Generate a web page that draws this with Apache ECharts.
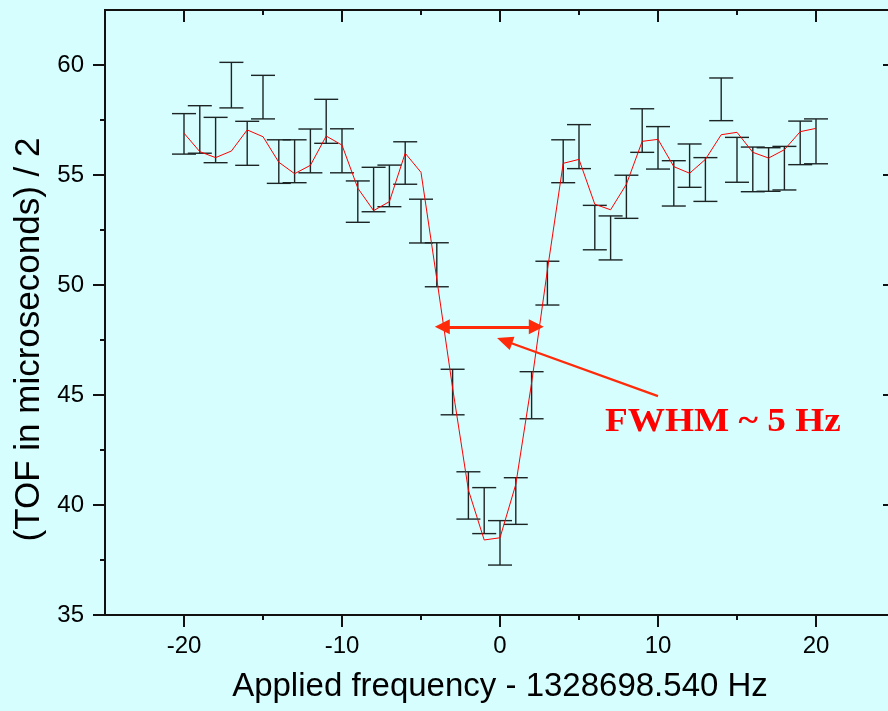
<!DOCTYPE html>
<html>
<head>
<meta charset="utf-8">
<script src="https://cdn.jsdelivr.net/npm/echarts@6/dist/echarts.min.js"></script>
<style>html,body{margin:0;padding:0;background:#d6fefe;overflow:hidden;}#c{width:888px;height:711px;}</style>
</head>
<body>
<div id="c"></div>
<script>
// Frequency offsets (Hz)
var freqs = [-20,-19,-18,-17,-16,-15,-14,-13,-12,-11,-10,-9,-8,-7,-6,-5,-4,-3,-2,-1,0,1,2,3,4,5,6,7,8,9,10,11,12,13,14,15,16,17,18,19,20];
// Red line values
var lineVals = [56.90,56.06,55.79,56.09,57.05,56.74,55.58,55.06,55.44,56.77,56.36,54.40,53.38,53.79,55.99,55.12,50.27,45.32,40.68,38.41,38.51,40.94,45.55,50.68,55.53,55.71,53.67,53.42,54.58,56.53,56.62,55.38,55.08,55.71,56.83,56.94,56.03,55.77,56.15,56.97,57.12];
// Error bar upper and lower ends
var barHigh = [57.79,58.15,57.62,60.12,57.44,59.53,56.60,56.60,57.09,58.44,57.10,54.73,55.35,55.45,56.51,53.90,51.92,46.17,41.51,40.79,39.29,41.24,46.06,51.08,56.60,57.29,53.62,53.14,54.99,58.01,57.20,55.65,56.41,55.79,59.41,56.71,56.27,56.24,56.30,57.45,57.55];
var barLow = [55.95,55.99,55.56,58.05,55.44,57.55,54.62,54.65,55.10,56.44,55.10,52.85,53.33,53.56,54.58,51.91,49.92,44.10,39.36,38.70,37.27,39.12,43.92,49.09,54.65,55.29,51.60,51.14,53.03,56.03,55.27,53.59,54.44,53.80,57.47,54.67,54.24,54.26,54.32,55.47,55.51];
// Axis ticks
var xMajor = [-20,-10,0,10,20];
var xMinor = [-15,-5,5,15];
var yMajor = [35,40,45,50,55,60];
var yMinor = [37.5,42.5,47.5,52.5,57.5];
// Annotation (data coordinates)
var fwhmLeft = [-3.65, 48.1], fwhmRight = [2.3, 48.1];
var pointerFrom = [10.0, 44.95], pointerTo = [0.29, 47.47];
var annotationText = 'FWHM ~ 5 Hz';

var barData = freqs.map(function(f,i){return [f, barLow[i], barHigh[i]];});
var lineData = freqs.map(function(f,i){return [f, lineVals[i]];});

var axisColor = '#111';
var sans = 'Liberation Sans, Arial, sans-serif';
function xAx(pos, ticks, len, inside, labels) {
  return {
    type:'value', position:pos, min:-25, max:25,
    axisLine:{show:true, onZero:false, lineStyle:{color:axisColor, width:2}},
    axisTick:{show:true, inside:inside, length:len, customValues:ticks, lineStyle:{color:axisColor, width:2}},
    axisLabel:{show:labels, customValues:ticks, color:'#000', fontFamily:sans, fontSize:24, margin:19},
    splitLine:{show:false}
  };
}
function yAx(pos, ticks, len, inside, labels) {
  return {
    type:'value', position:pos, min:35, max:62.5,
    axisLine:{show:true, onZero:false, lineStyle:{color:axisColor, width:2}},
    axisTick:{show:true, inside:inside, length:len, customValues:ticks, lineStyle:{color:axisColor, width:2}},
    axisLabel:{show:labels, customValues:ticks, color:'#000', fontFamily:sans, fontSize:24, margin:21},
    splitLine:{show:false}
  };
}
var xAxes = [xAx('bottom', xMajor, 12, false, true), xAx('bottom', xMinor, 5, false, false), xAx('top', xMajor, 12, true, false), xAx('top', xMinor, 5, true, false)];
xAxes[0].name = 'Applied frequency - 1328698.540 Hz';
xAxes[0].nameLocation = 'middle';
xAxes[0].nameGap = 55;
xAxes[0].nameTextStyle = {fontFamily:sans, fontSize:33, color:'#000'};
var yAxes = [yAx('left', yMajor, 12, false, true), yAx('left', yMinor, 5, false, false), yAx('right', yMajor, 12, true, false), yAx('right', yMinor, 5, true, false)];
yAxes[0].name = '(TOF in microseconds) / 2';
yAxes[0].nameLocation = 'middle';
yAxes[0].nameGap = 58;
yAxes[0].nameTextStyle = {fontFamily:sans, fontSize:35, color:'#000', padding:[0,54,0,0]};

var chart = echarts.init(document.getElementById('c'), null, {renderer:'canvas'});
chart.setOption({
  backgroundColor:'#d6fefe',
  animation:false,
  grid:{left:105, width:790, top:10, height:605, containLabel:false, outerBoundsMode:'none'},
  xAxis:xAxes,
  yAxis:yAxes,
  series:[
    {
      type:'custom', xAxisIndex:0, yAxisIndex:0, data:barData, z:3,
      renderItem:function(params, api){
        var x = api.value(0);
        var lo = api.coord([x, api.value(1)]);
        var hi = api.coord([x, api.value(2)]);
        var hw = 12;
        var st = {stroke:'#1c2424', lineWidth:1.4};
        return {type:'group', children:[
          {type:'line', shape:{x1:lo[0], y1:lo[1], x2:hi[0], y2:hi[1]}, style:st},
          {type:'line', shape:{x1:hi[0]-hw, y1:hi[1], x2:hi[0]+hw, y2:hi[1]}, style:st},
          {type:'line', shape:{x1:lo[0]-hw, y1:lo[1], x2:lo[0]+hw, y2:lo[1]}, style:st}
        ]};
      }
    },
    {
      type:'line', xAxisIndex:0, yAxisIndex:0, data:lineData, showSymbol:false, symbol:'none', z:4,
      lineStyle:{color:'#ff0000', width:1},
      markLine:{
        silent:true, animation:false,
        label:{show:false},
        data:[
          [{coord:fwhmLeft, symbol:'triangle', symbolSize:[15,15], lineStyle:{color:'#ff2a0a', width:3, type:'solid'}},
           {coord:fwhmRight, symbol:'triangle', symbolSize:[15,15]}],
          [{coord:pointerFrom, symbol:'none', lineStyle:{color:'#ff2a0a', width:2.2, type:'solid'}},
           {coord:pointerTo, symbol:'triangle', symbolSize:[14,16]}]
        ],
        lineStyle:{color:'#ff2a0a', width:3, type:'solid'},
        itemStyle:{color:'#ff2a0a'}
      }
    }
  ],
  graphic:[
    {type:'text', left:605, top:406, scaleX:1.13, style:{text:annotationText, fill:'#ff0000', font:'bold 33px "Liberation Serif", "Times New Roman", serif'}}
  ]
});
</script>
</body>
</html>
